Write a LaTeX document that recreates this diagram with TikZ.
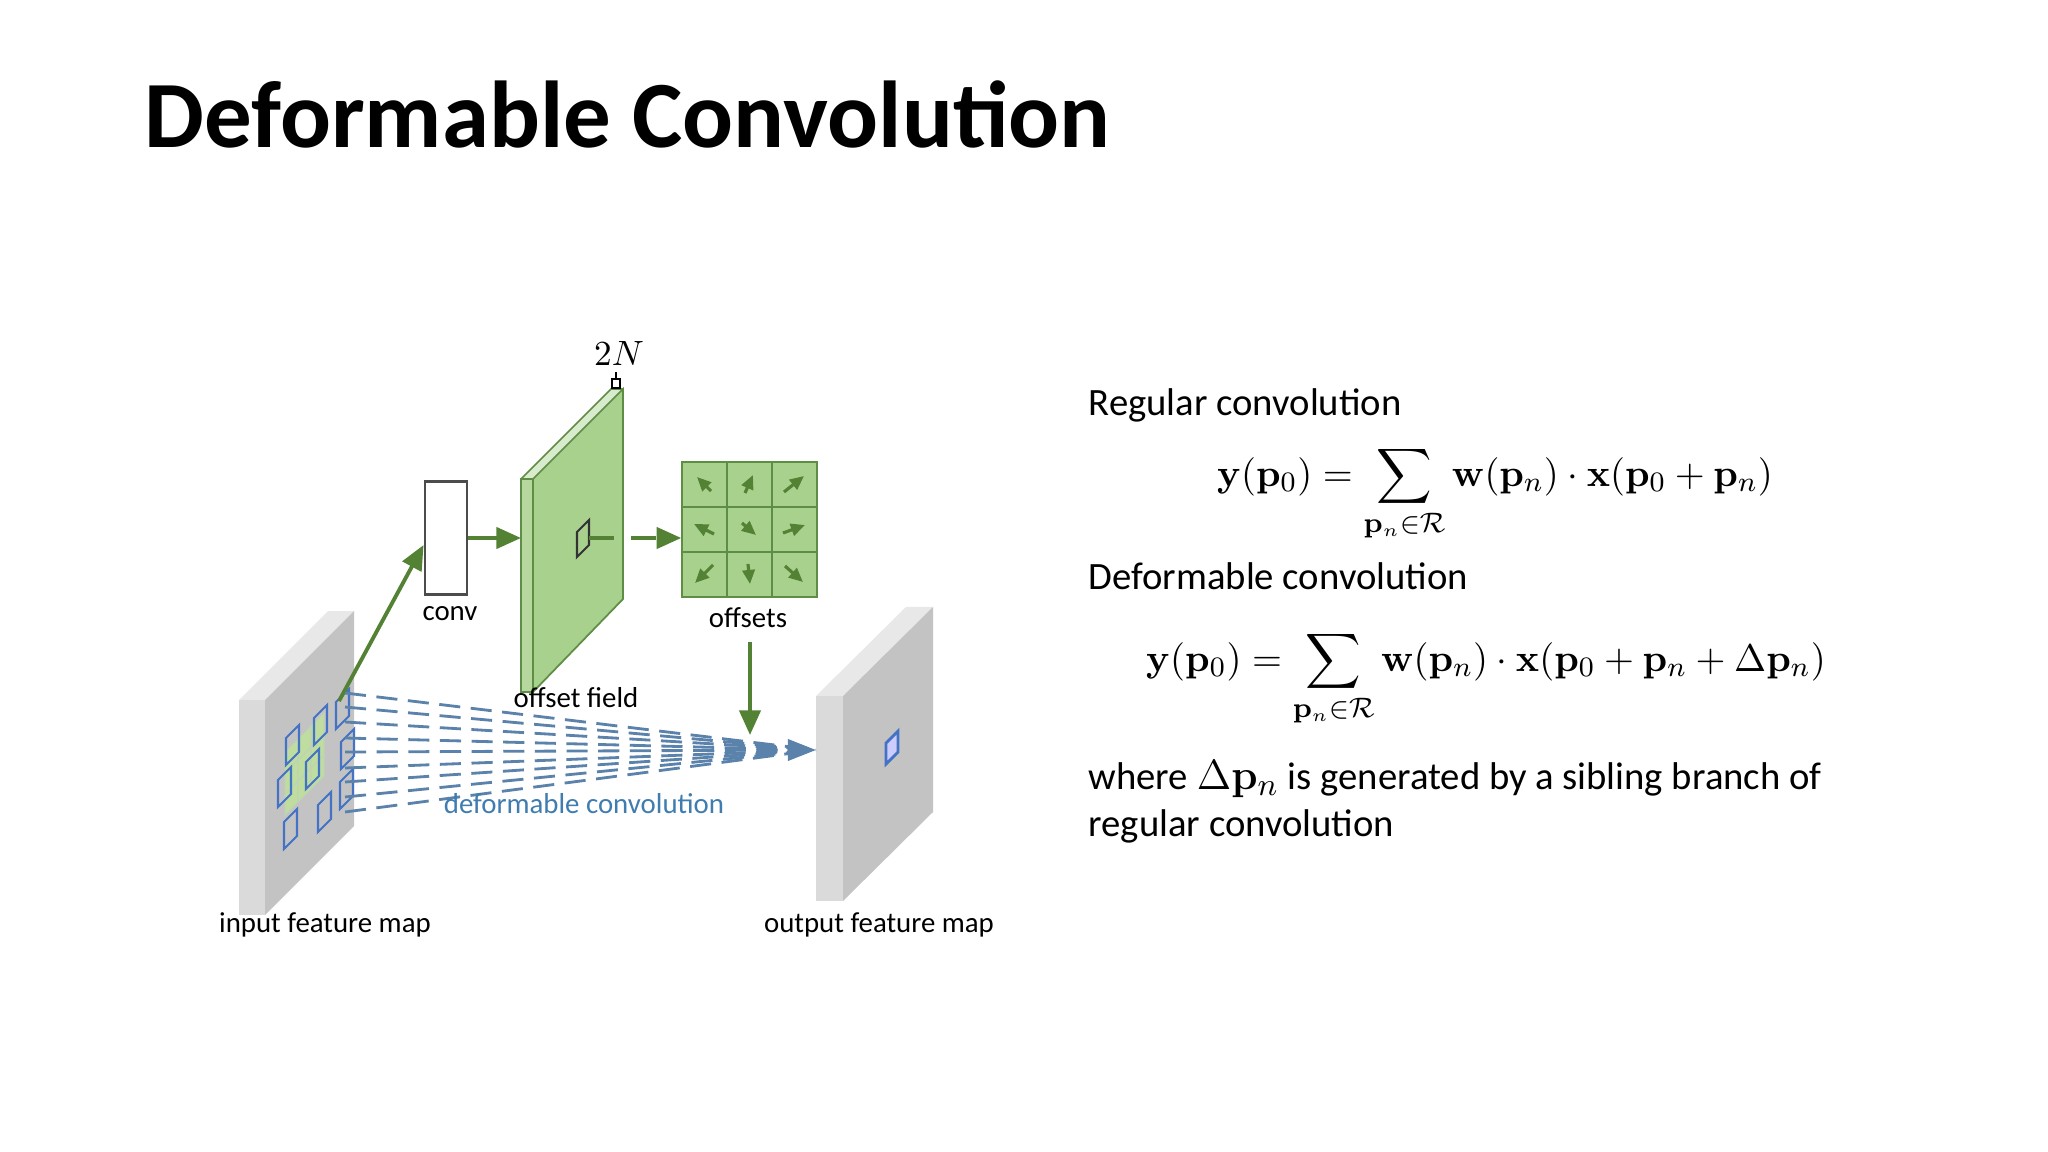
\documentclass[tikz,border=0pt]{standalone}
\usepackage{amsmath}
\usepackage[no-math]{fontspec}
\setmainfont{Carlito}
\usetikzlibrary{arrows.meta}
\definecolor{gfill}{HTML}{A9D18E}
\definecolor{glight}{HTML}{C9E2B8}
\definecolor{ggrid}{HTML}{BEDD9F}
\definecolor{gline}{HTML}{5E8E45}
\definecolor{garrow}{HTML}{548235}
\definecolor{bline}{HTML}{4472C4}
\definecolor{bdash}{HTML}{5A82AA}
\definecolor{btext}{HTML}{3F7CB0}
\definecolor{fgray}{HTML}{DADADA}
\definecolor{rgray}{HTML}{C3C3C3}
\definecolor{tgray}{HTML}{E8E8E8}
\tikzset{
  lbl/.style={font=\fontsize{8.2pt}{10pt}\selectfont, inner sep=0pt},
  txt/.style={font=\fontsize{11pt}{13pt}\selectfont, inner sep=0pt, anchor=base west},
  garr/.style={draw=garrow, line width=1.1pt, -{Triangle[length=7pt,width=6pt]}},
  samp/.style={draw=bline, line width=0.6pt},
  ddash/.style={draw=bdash, line width=0.8pt, dash pattern=on 6pt off 3pt},
  eq/.style={font=\fontsize{11pt}{13pt}\selectfont, inner sep=0pt}
}
\begin{document}
\begin{tikzpicture}[x=0.01cm,y=-0.01cm]
\useasboundingbox (0,0) rectangle (2048,1152);
\fill[white] (0,0) rectangle (2048,1152);
% title
\node[anchor=base west, inner sep=0pt, font=\fontsize{27pt}{32pt}\selectfont\bfseries] (title) at (144,148) {Deformable Convolution};

% input feature map
\fill[tgray] (239,700) -- (265,700) -- (354,611) -- (328,611) -- cycle;
\fill[rgray] (265,700) -- (354,611) -- (354,826) -- (265,915) -- cycle;
\fill[fgray] (239,700) rectangle (265,915);
% regular grid (light green)
\foreach \i in {0,1,2}{\foreach \j in {0,1,2}{
  \fill[ggrid,draw=gline!40,line width=0.3pt] ({285+13*\i},{752-13*\i+21*\j}) -- ++(13,-13) -- ++(0,21) -- ++(-13,13) -- cycle;}}
% sampling squares
\foreach \x/\y in {286/738, 314/718, 336/702, 278/780, 306/762, 341/742, 284/822, 318/805, 340/782}{
  \draw[samp] (\x,\y) -- ++(13,-13) -- ++(0,27) -- ++(-13,13) -- cycle;}
\coordinate (inA) at (339,701);

% output feature map
\fill[tgray] (816,696) -- (843,696) -- (933,607) -- (906,607) -- cycle;
\fill[rgray] (843,696) -- (933,607) -- (933,812) -- (843,901) -- cycle;
\fill[fgray] (816,696) rectangle (843,901);
\filldraw[fill=blue!20, draw=bline, line width=0.8pt] (886,743) -- (898,731) -- (898,752) -- (886,764) -- cycle;
\coordinate (outA) at (816,750);

% conv box
\node[draw=black!70, line width=0.8pt, minimum width=0.42cm, minimum height=1.13cm, inner sep=0pt, fill=white] (conv) at (446,538) {};
\node[lbl] (convl) at (450,614) {conv};

% offset field
\fill[glight!70!white] (521,479) -- (533,479) -- (623,389) -- (611,389) -- cycle;
\filldraw[fill=gfill, draw=gline, line width=0.5pt] (533,479) -- (623,389) -- (623,599) -- (533,692) -- cycle;
\filldraw[fill=gfill!85!white, draw=gline, line width=0.5pt] (521,479) rectangle (533,692);
\draw[gline, line width=0.5pt] (521,479) -- (611,389) -- (623,389);
\draw[black!80, line width=0.6pt] (577,532) -- (589,520) -- (589,545) -- (577,557) -- cycle;
\coordinate (sq) at (589,538);
\coordinate (ofL) at (521,538);
\node[lbl] (ofl) at (576,698) {offset field};
% 2N
\draw[black, line width=0.5pt] (612,388) rectangle (620,379);
\draw[black, line width=0.5pt] (616,379) -- (616,372);
\node[inner sep=0pt, font=\fontsize{10pt}{12pt}\selectfont] (twoN) at (619,353) {$2N$};

% offsets grid
\filldraw[fill=gfill, draw=gline, line width=0.7pt] (682,462) rectangle (817,597);
\foreach \k in {1,2}{
  \draw[gline, line width=0.7pt] ({682+45*\k},462) -- ({682+45*\k},597);
  \draw[gline, line width=0.7pt] (682,{462+45*\k}) -- (817,{462+45*\k});}
\foreach \cx/\cy/\dx/\dy in {704/484/-7/-7, 749/484/4/-9, 794/484/10/-8,
                             704/529/-10/-5, 749/529/7/6, 794/529/11/-4,
                             704/574/-9/9, 749/574/1/10, 794/574/9/8}{
  \draw[garrow, line width=0.9pt, -{Triangle[length=4pt,width=3.5pt]}] ({\cx-\dx},{\cy-\dy}) -- ({\cx+\dx},{\cy+\dy});}
\node[draw=none, minimum width=1.35cm, minimum height=1.35cm, inner sep=0pt] (grid) at (749.5,529.5) {};
\node[lbl] (offl) at (748,618) {offsets};

% arrows
\draw[garr] (inA) -- (conv.west |- 0,545);
\draw[garr] (conv.east |- 0,538) -- (ofL);
\draw[garrow, line width=1.1pt, dash pattern=on 7pt off 5pt, -{Triangle[length=7pt,width=6pt]}] (sq) -- (grid.west |- sq);
\draw[garr] (750,642) -- (750,735);

% dashed lines
\foreach \y in {693,707,722,738,752,768,782,797,812}{
  \draw[ddash] (345,\y) -- (outA);}
\draw[bdash, line width=1pt, -{Triangle[length=8pt,width=6pt]}] (795,750) -- (outA);
\node[lbl, text=btext] (dcl) at (584,804) {deformable convolution};

\node[lbl] (inl) at (325,925) {input feature map};
\node[lbl] (outl) at (879,925) {output feature map};

% right text
\node[txt] (r1) at (1088,416) {Regular convolution};
\node[eq] (eq1) at (1495,494) {$\mathbf{y}(\mathbf{p}_0)=\displaystyle\sum_{\mathbf{p}_n\in\mathcal{R}}\mathbf{w}(\mathbf{p}_n)\cdot\mathbf{x}(\mathbf{p}_0+\mathbf{p}_n)$};
\node[txt] (r2) at (1088,590) {Deformable convolution};
\node[eq] (eq2) at (1486,679) {$\mathbf{y}(\mathbf{p}_0)=\displaystyle\sum_{\mathbf{p}_n\in\mathcal{R}}\mathbf{w}(\mathbf{p}_n)\cdot\mathbf{x}(\mathbf{p}_0+\mathbf{p}_n+\Delta\mathbf{p}_n)$};
\node[txt] (r3) at (1088,789) {where {\fontsize{13pt}{15pt}\selectfont$\Delta\mathbf{p}_n$} is generated by a sibling branch of};
\node[txt] (r4) at (1088,836) {regular convolution};
\end{tikzpicture}
\end{document}
